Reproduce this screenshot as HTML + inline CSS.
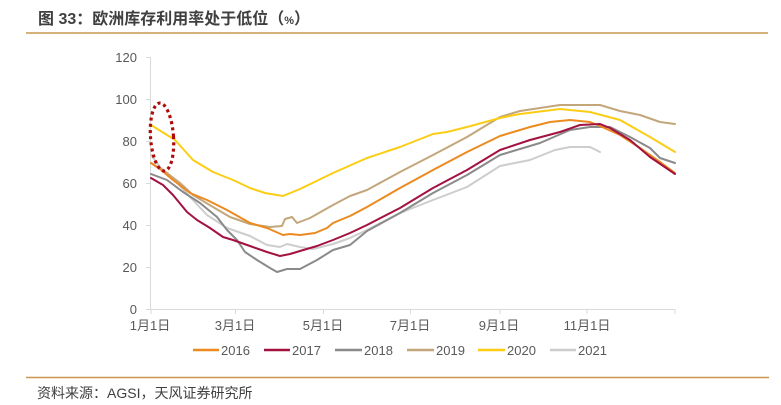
<!DOCTYPE html>
<html>
<head>
<meta charset="utf-8">
<style>
  html,body{margin:0;padding:0;background:#ffffff;}
  body{width:781px;height:405px;overflow:hidden;position:relative;}
  svg{position:absolute;left:0;top:0;}
  .tk{font-family:"Liberation Sans","Noto Sans CJK SC",sans-serif;font-size:13px;fill:#595959;}
</style>
</head>
<body>
<svg width="781" height="405" viewBox="0 0 781 405" xmlns="http://www.w3.org/2000/svg">
  <!-- title -->
  <text x="38" y="24" font-family="Liberation Sans,'Noto Sans CJK SC',sans-serif" font-size="16" font-weight="bold" fill="#3f3f3f">图 33：欧洲库存利用率处于低位（<tspan font-size="11">%</tspan>）</text>
  <line x1="26" y1="33" x2="768" y2="33" stroke="#c9984f" stroke-width="1.5"/>

  <!-- axes -->
  <line x1="150.5" y1="57" x2="150.5" y2="310" stroke="#d9d9d9" stroke-width="1"/>
  <line x1="150" y1="309.5" x2="675" y2="309.5" stroke="#d9d9d9" stroke-width="1"/>
  <!-- y ticks -->
  <g stroke="#d9d9d9" stroke-width="1">
    <line x1="146" y1="57.5" x2="150" y2="57.5"/>
    <line x1="146" y1="99.5" x2="150" y2="99.5"/>
    <line x1="146" y1="141.5" x2="150" y2="141.5"/>
    <line x1="146" y1="183.5" x2="150" y2="183.5"/>
    <line x1="146" y1="225.5" x2="150" y2="225.5"/>
    <line x1="146" y1="267.5" x2="150" y2="267.5"/>
    <line x1="146" y1="309.5" x2="150" y2="309.5"/>
    <line x1="151" y1="309" x2="151" y2="314"/>
    <line x1="235.5" y1="309" x2="235.5" y2="314"/>
    <line x1="323.5" y1="309" x2="323.5" y2="314"/>
    <line x1="410.5" y1="309" x2="410.5" y2="314"/>
    <line x1="500" y1="309" x2="500" y2="314"/>
    <line x1="587" y1="309" x2="587" y2="314"/>
    <line x1="675" y1="309" x2="675" y2="314"/>
  </g>
  <g class="tk" text-anchor="end">
    <text x="137" y="62">120</text>
    <text x="137" y="104">100</text>
    <text x="137" y="146">80</text>
    <text x="137" y="188">60</text>
    <text x="137" y="230">40</text>
    <text x="137" y="272">20</text>
    <text x="137" y="314">0</text>
  </g>
  <g class="tk" text-anchor="middle">
    <text x="150" y="330">1月1日</text>
    <text x="235" y="330">3月1日</text>
    <text x="323" y="330">5月1日</text>
    <text x="410" y="330">7月1日</text>
    <text x="499" y="330">9月1日</text>
    <text x="587" y="330">11月1日</text>
  </g>

  <g fill="none" stroke-width="2" stroke-linejoin="round" stroke-linecap="round">
    <!-- 2021 light gray -->
    <polyline stroke="#cdcdcd" points="151,155 160,167 173,178 190,197 207,215 227,228 250,236 267,245 280,247 287,244 300,247 313,249 333,244 350,238 367,230 400,213 433,200 467,187 500,166 530,160 555,150 570,147 590,147 600,152"/>
    <!-- 2019 tan -->
    <polyline stroke="#c4a67b" points="151,163 167,173 180,183 193,195 213,207 230,217 250,224 270,227 282,226 285,219 292,217 297,223 310,218 333,205 350,196 367,190 400,172 433,155 467,137 500,117 520,111 540,108 560,105 600,105 620,111 640,115 660,122 675,124"/>
    <!-- 2018 gray -->
    <polyline stroke="#8a8a8a" points="151,174 167,180 183,192 200,203 217,217 227,230 237,240 245,252 257,260 270,268 277,272 287,269 300,269 317,260 333,250 350,245 367,231 400,213 433,193 467,175 500,155 540,143 570,130 590,127 610,127 630,137 650,148 660,158 675,163"/>
    <!-- 2016 orange -->
    <polyline stroke="#ec8a1f" points="151,163 160,169 173,180 190,193 207,200 227,210 250,223 267,228 283,235 290,234 300,235 315,233 327,228 333,223 350,216 367,207 400,188 433,170 467,152 500,136 530,127 550,122 570,120 590,122 600,126 620,135 640,148 660,162 675,173"/>
    <!-- 2017 crimson -->
    <polyline stroke="#a3123f" points="151,178 163,185 173,195 187,212 197,220 210,228 223,237 233,240 250,246 267,252 280,256 290,254 300,251 317,246 333,240 350,233 367,225 400,208 433,188 467,170 500,150 530,140 560,132 580,125 600,124 610,128 630,140 650,157 675,174"/>
    <!-- 2020 yellow -->
    <polyline stroke="#fbcd14" points="151,125 175,140 193,160 213,172 233,180 250,188 265,193 283,196 300,189 333,173 367,158 400,147 433,134 447,132 467,127 500,118 520,114 560,109 590,112 620,120 650,137 675,152"/>
  </g>

  <!-- dotted ellipse -->
  <ellipse cx="162" cy="137" rx="11.5" ry="34" fill="none" stroke="#b00a0a" stroke-width="3.2" stroke-dasharray="3 3.2" transform="rotate(-4 162 137)"/>

  <!-- legend -->
  <g stroke-width="2.5">
    <line x1="193" y1="350" x2="219" y2="350" stroke="#ec8a1f"/>
    <line x1="264" y1="350" x2="290" y2="350" stroke="#a3123f"/>
    <line x1="335" y1="350" x2="362" y2="350" stroke="#8a8a8a"/>
    <line x1="407" y1="350" x2="434" y2="350" stroke="#c4a67b"/>
    <line x1="478" y1="350" x2="505" y2="350" stroke="#fbcd14"/>
    <line x1="550" y1="350" x2="576" y2="350" stroke="#cdcdcd"/>
  </g>
  <g class="tk">
    <text x="221" y="355">2016</text>
    <text x="292" y="355">2017</text>
    <text x="364" y="355">2018</text>
    <text x="436" y="355">2019</text>
    <text x="507" y="355">2020</text>
    <text x="578" y="355">2021</text>
  </g>

  <!-- bottom rule and source -->
  <line x1="26" y1="377.5" x2="769" y2="377.5" stroke="#c9984f" stroke-width="1.5"/>
  <text x="37" y="398" font-family="Liberation Sans,'Noto Sans CJK SC',sans-serif" font-size="14" fill="#404040">资料来源：AGSI，天风证券研究所</text>
</svg>
</body>
</html>
